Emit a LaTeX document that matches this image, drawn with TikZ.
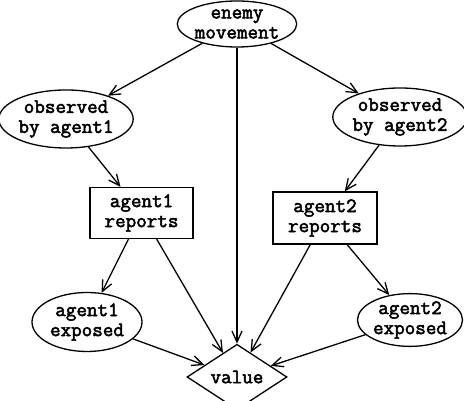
\documentclass[tikz,border=0pt]{standalone}
\usepackage{fontspec}
\setmonofont{Latin Modern Mono}[AutoFakeBold=2.5]
\usetikzlibrary{shapes.geometric,arrows.meta}
\begin{document}
\begin{tikzpicture}[x=1pt,y=1pt,
  every node/.style={font=\ttfamily\bfseries\fontsize{20.5}{20}\selectfont, align=center, draw, line width=1.3pt, inner sep=0pt},
  chance/.style={ellipse},
  decision/.style={rectangle},
  utility/.style={diamond},
  link/.style={line width=1.3pt, -{Straight Barb[length=11pt,width=10pt,line width=1.3pt]}}
]
\useasboundingbox (0,0) rectangle (464,401);
\node[chance, minimum width=117, minimum height=46] (enemy) at (237,377) {enemy\\movement};
\node[chance, minimum width=112, minimum height=58] (obs1) at (66,282) {observed\\by agent1};
\node[chance, minimum width=111, minimum height=58] (obs2) at (400,284) {observed\\by agent2};
\node[decision, minimum width=103, minimum height=51] (rep1) at (141.5,188) {agent1\\reports};
\node[decision, minimum width=104, minimum height=52] (rep2) at (325,183) {agent2\\reports};
\node[chance, minimum width=110, minimum height=59] (exp1) at (87,79) {agent1\\exposed};
\node[chance, minimum width=105, minimum height=52] (exp2) at (410,81) {agent2\\exposed};
\node[utility, minimum width=100, minimum height=44] (value) at (237,24) {value};

\draw[link] (enemy) -- (obs1);
\draw[link] (enemy) -- (obs2);
\draw[link] (enemy) -- (value);
\draw[link] (obs1) -- (rep1);
\draw[link] (obs2) -- (rep2);
\draw[link] (rep1) -- (exp1);
\draw[link] (rep1) -- (value);
\draw[link] (rep2) -- (value);
\draw[link] (rep2) -- (exp2);
\draw[link] (exp1) -- (value);
\draw[link] (exp2) -- (value);
\end{tikzpicture}
\end{document}
